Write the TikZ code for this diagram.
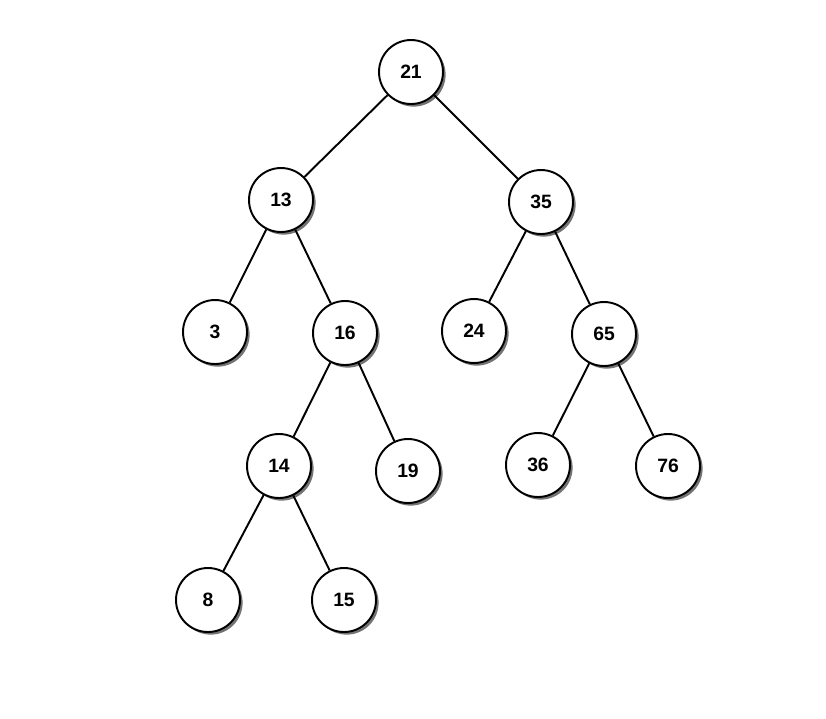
\documentclass[tikz,border=0pt]{standalone}
\usepackage{fontspec}
\setmainfont{Liberation Sans}
\usetikzlibrary{shadows}
\tikzset{
	key/.style={circle, draw=black, line width=1.1pt, fill=white, minimum size=1.28cm, inner sep=0pt,
		font=\fontsize{11}{13}\selectfont\bfseries,
		drop shadow={shadow xshift=1.5pt, shadow yshift=-1.5pt, fill=black!55, opacity=1}},
	link/.style={line width=1.1pt, black}
}
\begin{document}
\begin{tikzpicture}[x=0.02cm, y=-0.02cm]
		\useasboundingbox (0,0) rectangle (826,718);
		\node [key] (k21) at (411,72) {21};
		\node [key] (k13) at (281,200) {13};
		\node [key] (k35) at (541,202) {35};
		\node [key] (k3) at (215,332) {3};
		\node [key] (k16) at (345,333) {16};
		\node [key] (k24) at (474,331) {24};
		\node [key] (k65) at (604,334) {65};
		\node [key] (k14) at (279,466) {14};
		\node [key] (k19) at (408,471) {19};
		\node [key] (k36) at (538,465) {36};
		\node [key] (k76) at (668,466) {76};
		\node [key] (k8) at (208,600) {8};
		\node [key] (k15) at (344,600) {15};
		\draw [link] (k21)--(k13);
		\draw [link] (k21)--(k35);
		\draw [link] (k13)--(k3);
		\draw [link] (k13)--(k16);
		\draw [link] (k35)--(k24);
		\draw [link] (k35)--(k65);
		\draw [link] (k16)--(k14);
		\draw [link] (k16)--(k19);
		\draw [link] (k65)--(k36);
		\draw [link] (k65)--(k76);
		\draw [link] (k14)--(k8);
		\draw [link] (k14)--(k15);
\end{tikzpicture}
\end{document}
